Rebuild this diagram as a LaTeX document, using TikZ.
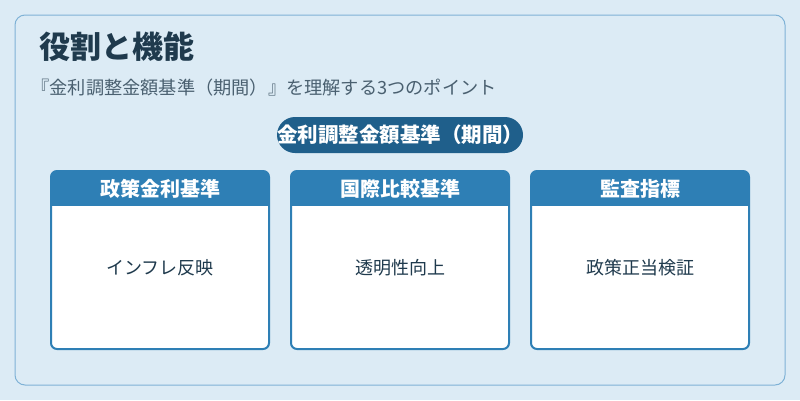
\documentclass[tikz,border=0pt]{standalone}
\usepackage{fontspec}
\setmainfont{Noto Sans CJK JP}
\usetikzlibrary{positioning}
\definecolor{bgblue}{HTML}{DCEBF5}
\definecolor{edgeblue}{HTML}{7FB2D6}
\definecolor{headblue}{HTML}{2E7FB5}
\definecolor{pillblue}{HTML}{1F5F8B}
\definecolor{titleink}{HTML}{1F3A4D}
\definecolor{subink}{HTML}{4A6070}
\tikzset{
  cardbody/.style={draw=headblue, line width=2pt, fill=white, rounded corners=6pt,
                   minimum width=218pt, minimum height=178pt, inner sep=0pt},
  cardhead/.style={fill=headblue, text=white, font=\fontsize{20}{24}\selectfont\bfseries,
                   minimum width=218pt, minimum height=35pt, inner sep=0pt},
  cardtext/.style={font=\fontsize{18}{22}\selectfont, text=titleink}
}
\begin{document}
\begin{tikzpicture}[x=1pt, y=-1pt]
    \useasboundingbox (0,0) rectangle (800,400);
    \fill[bgblue] (0,0) rectangle (800,400);
    \draw[edgeblue, line width=1pt, rounded corners=10pt] (15,15) rectangle (785,385);

    \node[anchor=west, text=titleink, font=\fontsize{31}{36}\selectfont\bfseries] (title) at (36,47) {役割と機能};
    \node[anchor=west, text=subink, font=\fontsize{18.2}{22}\selectfont] (sub) at (28,88)
        {『金利調整金額基準（期間）』を理解する3つのポイント};

    \node[fill=pillblue, text=white, rounded corners=18pt, minimum width=242pt,
          minimum height=36pt, inner sep=0pt, font=\fontsize{20.5}{24}\selectfont\bfseries] (pill) at (400,135)
        {金利調整金額基準（期間）};

    % cards
    \foreach \cx/\head/\body [count=\i] in {160/政策金利基準/インフレ反映,
                                             400/国際比較基準/透明性向上,
                                             640/監査指標/政策正当検証} {
        \node[cardbody] (card\i) at (\cx,260) {};
        \begin{scope}
            \clip[rounded corners=6pt] (\cx-109,171) rectangle (\cx+109,349);
            \node[cardhead, anchor=north] (head\i) at (\cx,171) {\head};
        \end{scope}
        \node[cardtext] (text\i) at (\cx,268) {\body};
    }
\end{tikzpicture}
\end{document}
